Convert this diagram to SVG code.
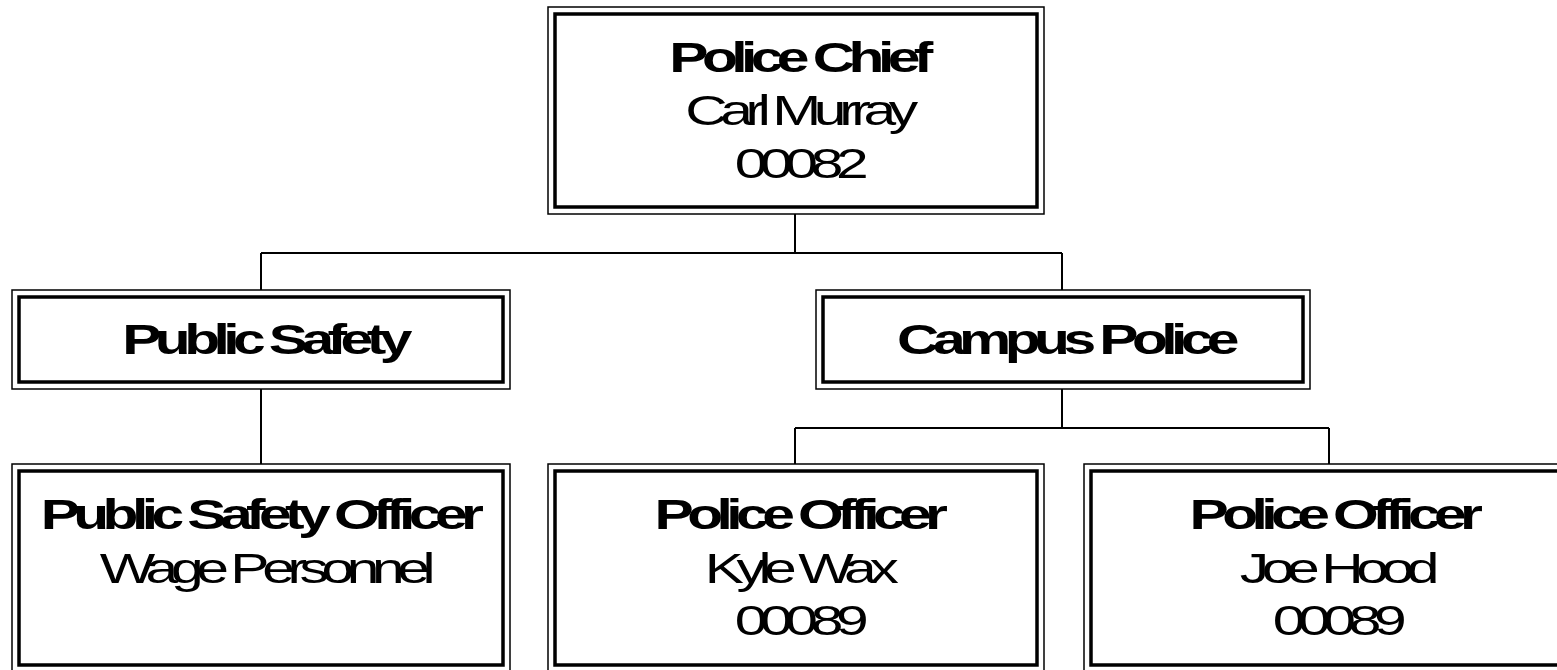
<svg xmlns="http://www.w3.org/2000/svg" width="1557" height="670" viewBox="0 0 1557 670">
<style>
.outer{fill:#fff;stroke:#000;stroke-width:1.5}
.inner{fill:none;stroke:#000;stroke-width:3.5}
.conn{fill:none;stroke:#000;stroke-width:2}
text{font-family:"Liberation Sans",Arial,sans-serif;font-size:42px;text-anchor:middle;letter-spacing:-5.3px;fill:#000}
.b{font-weight:bold;letter-spacing:-4.7px}
</style>
<rect width="1557" height="670" fill="#fff"/>
<g id="connectors">
<path class="conn" d="M795 214V253M261 253H1062M261 253V290M1062 253V290"/>
<path class="conn" d="M261 389V464"/>
<path class="conn" d="M1062 389V428M795 428H1329M795 428V464M1329 428V464"/>
</g>
<g id="chief">
<rect class="outer" x="548" y="7" width="496" height="207"/>
<rect class="inner" x="555" y="14" width="482" height="193"/>
<text class="b" transform="translate(798,72) scale(1.4,1)">Police Chief</text>
<text transform="translate(798,125) scale(1.4,1)">Carl Murray</text>
<text transform="translate(798,178) scale(1.4,1)">00082</text>
</g>
<g id="public-safety">
<rect class="outer" x="12" y="290" width="498" height="99"/>
<rect class="inner" x="19" y="297" width="484" height="85"/>
<text class="b" transform="translate(264,354) scale(1.4,1)">Public Safety</text>
</g>
<g id="campus-police">
<rect class="outer" x="816" y="290" width="494" height="99"/>
<rect class="inner" x="823" y="297" width="480" height="85"/>
<text class="b" transform="translate(1065,354) scale(1.4,1)">Campus Police</text>
</g>
<g id="ps-officer">
<rect class="outer" x="12" y="464" width="498" height="210"/>
<rect class="inner" x="19" y="471" width="484" height="194"/>
<text class="b" transform="translate(259,529) scale(1.4,1)">Public Safety Officer</text>
<text transform="translate(264,583) scale(1.4,1)">Wage Personnel</text>
</g>
<g id="officer-wax">
<rect class="outer" x="548" y="464" width="496" height="210"/>
<rect class="inner" x="555" y="471" width="482" height="194"/>
<text class="b" transform="translate(798,529) scale(1.4,1)">Police Officer</text>
<text transform="translate(798,583) scale(1.4,1)">Kyle Wax</text>
<text transform="translate(798,635) scale(1.4,1)">00089</text>
</g>
<g id="officer-hood">
<rect class="outer" x="1084" y="464" width="496" height="210"/>
<rect class="inner" x="1091" y="471" width="482" height="194"/>
<text class="b" transform="translate(1333,529) scale(1.4,1)">Police Officer</text>
<text transform="translate(1336,583) scale(1.4,1)">Joe Hood</text>
<text transform="translate(1336,635) scale(1.4,1)">00089</text>
</g>
</svg>
